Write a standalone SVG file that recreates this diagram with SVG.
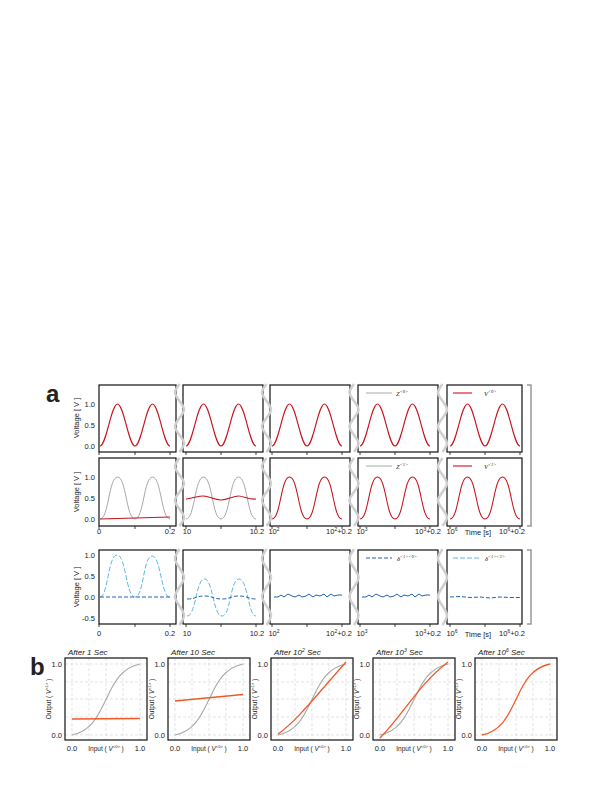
<svg xmlns="http://www.w3.org/2000/svg" width="612" height="792" viewBox="0 0 612 792">
<style>
text{font-family:"Liberation Sans",Arial,sans-serif;fill:#222}
.t{font-size:7.5px}
.tl{font-size:6.5px}
.frame{fill:none;stroke:#111;stroke-width:1.2}
.sq{fill:none;stroke:#cfcfcf;stroke-width:2.5}
.red{fill:none;stroke:#c8141e;stroke-width:1.1}
.gray{fill:none;stroke:#a8a8a8;stroke-width:1}
.lb{fill:none;stroke:#5ab8e8;stroke-width:1;stroke-dasharray:5 2}
.db{fill:none;stroke:#2060b0;stroke-width:1;stroke-dasharray:4 2}
.dbs{fill:none;stroke:#2060b0;stroke-width:1}
.or{fill:none;stroke:#f05a28;stroke-width:1.3}
.gs{fill:none;stroke:#a8a8a8;stroke-width:1.1}
.grid{stroke:#d8d8d8;stroke-width:0.7;stroke-dasharray:3 2}
.tick{stroke:#111;stroke-width:0.8}
.br{fill:none;stroke:#999;stroke-width:1.5}
.lab{font-size:8px;font-style:italic}
</style>
<defs>
<path id="wave" d="M0,0 C6.3,0 11.2,-42 17.5,-42 S28.7,0 35,0 S46.2,-42 52.5,-42 S63.7,0 70,0"/>
<path id="sqw" d="M0,0 C8.75,0 8.75,-42 17.5,-42 S26.25,0 35,0 S43.75,-42 52.5,-42 S61.25,0 70,0"/>
<path id="sq1" d="M0,0 c-6,8 -6,9 0,17 s6,9 0,17 s-6,9 0,17 s6,9 0,17"/>
<path id="sq3" d="M0,0 c-6,9 -6,10 0,19 s6,10 0,19 s-6,10 0,19 s6,10 0,19"/>
<path id="sig" d="M0,0 C20,-4 27,-21 34,-35.5 S48,-67 68,-71"/>
<path id="noise" d="M0,0 l4,0 3,-2 3,2 4,-3 4,2 3,1 4,-2 3,2 4,-1 3,-2 4,3 3,-2 4,1 4,-2 3,3 4,-3 3,2 4,-1 4,0"/>
</defs>
<text x="46" y="402" style="font-size:24px;font-weight:bold">a</text>
<text x="30" y="675" style="font-size:24px;font-weight:bold">b</text>

<g id="row1">
<rect class="frame" x="99" y="385" width="77" height="67"/>
<rect class="frame" x="183" y="385" width="80" height="67"/>
<rect class="frame" x="270" y="385" width="80" height="67"/>
<rect class="frame" x="358" y="385" width="80" height="67"/>
<rect class="frame" x="447" y="385" width="75" height="67"/>
<g class="t" text-anchor="end"><text x="95" y="407">1.0</text><text x="95" y="428">0.5</text><text x="95" y="449">0.0</text></g>
<text class="t" transform="translate(79,418) rotate(-90)" text-anchor="middle">Voltage [ V ]</text>
<use href="#wave" class="red" x="100" y="446"/>
<use href="#wave" class="red" x="186" y="446"/>
<use href="#wave" class="red" x="272" y="446"/>
<use href="#wave" class="red" x="360" y="446"/>
<use href="#wave" class="red" x="450" y="446"/>
<line x1="366" y1="393" x2="392" y2="393" class="gray"/><text class="tl" x="396" y="396" style="font-family:'Liberation Serif',serif;font-style:italic">Z<tspan font-size="4.5" dy="-3">&lt;0&gt;</tspan></text>
<line x1="453" y1="393" x2="472" y2="393" class="red"/><text class="tl" x="484" y="396" style="font-family:'Liberation Serif',serif;font-style:italic">V<tspan font-size="4.5" dy="-3">&lt;0&gt;</tspan></text>
</g>

<g id="row2">
<rect class="frame" x="99" y="458" width="77" height="68"/>
<rect class="frame" x="183" y="458" width="80" height="68"/>
<rect class="frame" x="270" y="458" width="80" height="68"/>
<rect class="frame" x="358" y="458" width="80" height="68"/>
<rect class="frame" x="447" y="458" width="75" height="68"/>
<g class="t" text-anchor="end"><text x="95" y="480">1.0</text><text x="95" y="501">0.5</text><text x="95" y="522">0.0</text></g>
<text class="t" transform="translate(79,492) rotate(-90)" text-anchor="middle">Voltage [ V ]</text>
<use href="#sqw" class="gray" x="100" y="519"/>
<path class="red" d="M100,519 L170,517"/>
<use href="#sqw" class="gray" x="186" y="519"/>
<path class="red" d="M186,499 C194,498 198,496 203.5,496 S214,500 221,500 S233,496 238.5,496 S249,500 256,499"/>
<use href="#sqw" class="red" x="272" y="519"/>
<use href="#sqw" class="red" x="360" y="519"/>
<use href="#sqw" class="red" x="450" y="519"/>
<line x1="366" y1="466" x2="392" y2="466" class="gray"/><text class="tl" x="396" y="469" style="font-family:'Liberation Serif',serif;font-style:italic">Z<tspan font-size="4.5" dy="-3">&lt;1&gt;</tspan></text>
<line x1="453" y1="466" x2="472" y2="466" class="red"/><text class="tl" x="484" y="469" style="font-family:'Liberation Serif',serif;font-style:italic">V<tspan font-size="4.5" dy="-3">&lt;1&gt;</tspan></text>
</g>

<g id="axis12" class="t" text-anchor="middle">
<text x="99" y="534">0</text><text x="170" y="534">0.2</text>
<text x="187" y="534">10</text><text x="257" y="534">10.2</text>
<text x="274" y="534">10<tspan font-size="5" dy="-3">2</tspan></text><text x="339" y="534">10<tspan font-size="5" dy="-3">2</tspan><tspan dy="3">+0.2</tspan></text>
<text x="362" y="534">10<tspan font-size="5" dy="-3">3</tspan></text><text x="428" y="534">10<tspan font-size="5" dy="-3">3</tspan><tspan dy="3">+0.2</tspan></text>
<text x="452" y="534">10<tspan font-size="5" dy="-3">6</tspan></text><text x="478" y="535">Time [s]</text><text x="512" y="534">10<tspan font-size="5" dy="-3">6</tspan><tspan dy="3">+0.2</tspan></text>
</g>

<g id="row3">
<rect class="frame" x="99" y="550" width="77" height="74"/>
<rect class="frame" x="183" y="550" width="80" height="74"/>
<rect class="frame" x="270" y="550" width="80" height="74"/>
<rect class="frame" x="358" y="550" width="80" height="74"/>
<rect class="frame" x="447" y="550" width="75" height="74"/>
<g class="t" text-anchor="end"><text x="95" y="558">1.0</text><text x="95" y="579">0.5</text><text x="95" y="600">0.0</text><text x="95" y="621">-0.5</text></g>
<text class="t" transform="translate(79,587) rotate(-90)" text-anchor="middle">Voltage [ V ]</text>
<path class="lb" d="M100,597 C108,597 108,555 117,555 S126,597 135,597 S143,556 152,556 S161,597 170,597"/>
<line class="db" x1="100" y1="597" x2="170" y2="597"/>
<path class="lb" d="M187,616 C196,616 196,579 204.5,579 S213,616 222,616 S230,579 239,579 S248,616 256,616"/>
<path class="db" d="M187,599 C196,599 196,596 204.5,596 S213,599 222,599 S230,596 239,596 S248,599 256,599"/>
<use href="#noise" class="dbs" x="274" y="597"/>
<use href="#noise" class="dbs" x="362" y="597"/>
<path class="db" d="M450,597 l10,-0.5 10,1 10,-0.5 10,1 10,-1 10,0.5 10,0"/>
<line x1="366" y1="558" x2="392" y2="558" class="db"/><text class="tl" x="397" y="561" style="font-family:'Liberation Serif',serif;font-style:italic">δ<tspan font-size="4.5" dy="-3">&lt;1&gt;&lt;0&gt;</tspan></text>
<line x1="453" y1="558" x2="480" y2="558" class="lb" stroke="#a8d8f5"/><text class="tl" x="485" y="561" style="font-family:'Liberation Serif',serif;font-style:italic">δ<tspan font-size="4.5" dy="-3">&lt;1&gt;&lt;3&gt;</tspan></text>
</g>

<g id="axis3" class="t" text-anchor="middle">
<text x="99" y="636">0</text><text x="170" y="636">0.2</text>
<text x="187" y="636">10</text><text x="257" y="636">10.2</text>
<text x="274" y="636">10<tspan font-size="5" dy="-3">2</tspan></text><text x="339" y="636">10<tspan font-size="5" dy="-3">2</tspan><tspan dy="3">+0.2</tspan></text>
<text x="362" y="636">10<tspan font-size="5" dy="-3">3</tspan></text><text x="428" y="636">10<tspan font-size="5" dy="-3">3</tspan><tspan dy="3">+0.2</tspan></text>
<text x="452" y="636">10<tspan font-size="5" dy="-3">6</tspan></text><text x="478" y="637">Time [s]</text><text x="512" y="636">10<tspan font-size="5" dy="-3">6</tspan><tspan dy="3">+0.2</tspan></text>
</g>

<g id="ticks" class="tick">
<path d="M99,452v3M135,452v3M170,452v3M186,452v3M221,452v3M256,452v3M272,452v3M307,452v3M342,452v3M360,452v3M395,452v3M430,452v3M450,452v3M485,452v3M520,452v3"/>
<path d="M99,526v3M135,526v3M170,526v3M186,526v3M221,526v3M256,526v3M272,526v3M307,526v3M342,526v3M360,526v3M395,526v3M430,526v3M450,526v3M485,526v3M520,526v3"/>
<path d="M99,624v3M135,624v3M170,624v3M186,624v3M221,624v3M256,624v3M272,624v3M307,624v3M342,624v3M360,624v3M395,624v3M430,624v3M450,624v3M485,624v3M520,624v3"/>
</g>

<g id="breaks" class="sq">
<use href="#sq1" x="179.5" y="384"/><use href="#sq1" x="266.5" y="384"/><use href="#sq1" x="354" y="384"/><use href="#sq1" x="442.5" y="384"/>
<use href="#sq1" x="179.5" y="458"/><use href="#sq1" x="266.5" y="458"/><use href="#sq1" x="354" y="458"/><use href="#sq1" x="442.5" y="458"/>
<use href="#sq3" x="179.5" y="549"/><use href="#sq3" x="266.5" y="549"/><use href="#sq3" x="354" y="549"/><use href="#sq3" x="442.5" y="549"/>
</g>

<g id="brackets" class="br">
<path d="M527,385h4v141h-4"/>
<path d="M527,550h4v74h-4"/>
</g>

<g id="partb">
<g id="b1" transform="translate(65,0)">
<path class="grid" d="M7,658v82M24,658v82M41,658v82M58,658v82M75,658v82M0,664h82M0,682h82M0,699h82M0,717h82M0,735h82"/>
<use href="#sig" class="gs" x="7" y="735"/>
<path class="or" d="M7,719 L75,718.5"/>
<rect class="frame" x="0" y="658" width="82" height="82"/>
<text class="lab" x="3" y="655">After 1 Sec</text>
</g>
<g id="b2" transform="translate(168,0)">
<path class="grid" d="M7,658v82M24,658v82M41,658v82M58,658v82M75,658v82M0,664h82M0,682h82M0,699h82M0,717h82M0,735h82"/>
<use href="#sig" class="gs" x="7" y="735"/>
<path class="or" d="M7,701 L75,694.5"/>
<rect class="frame" x="0" y="658" width="82" height="82"/>
<text class="lab" x="3" y="655">After 10 Sec</text>
</g>
<g id="b3" transform="translate(271,0)">
<path class="grid" d="M7,658v82M24,658v82M41,658v82M58,658v82M75,658v82M0,664h82M0,682h82M0,699h82M0,717h82M0,735h82"/>
<use href="#sig" class="gs" x="7" y="735"/>
<path class="or" d="M7,734 C25,722 50,690 75,662"/>
<rect class="frame" x="0" y="658" width="82" height="82"/>
<text class="lab" x="3" y="655">After 10<tspan font-size="5" dy="-3">2</tspan><tspan dy="3"> Sec</tspan></text>
</g>
<g id="b4" transform="translate(373,0)">
<path class="grid" d="M7,658v82M24,658v82M41,658v82M58,658v82M75,658v82M0,664h82M0,682h82M0,699h82M0,717h82M0,735h82"/>
<use href="#sig" class="gs" x="7" y="735"/>
<path class="or" d="M7,738 C30,715 45,685 75,662"/>
<rect class="frame" x="0" y="658" width="82" height="82"/>
<text class="lab" x="3" y="655">After 10<tspan font-size="5" dy="-3">3</tspan><tspan dy="3"> Sec</tspan></text>
</g>
<g id="b5" transform="translate(475,0)">
<path class="grid" d="M7,658v82M24,658v82M41,658v82M58,658v82M75,658v82M0,664h82M0,682h82M0,699h82M0,717h82M0,735h82"/>
<use href="#sig" class="or" x="7" y="735"/>
<rect class="frame" x="0" y="658" width="82" height="82"/>
<text class="lab" x="3" y="655">After 10<tspan font-size="5" dy="-3">6</tspan><tspan dy="3"> Sec</tspan></text>
</g>
<g class="t">
<g text-anchor="end">
<text x="62" y="667">1.0</text><text x="62" y="738">0.0</text>
<text x="165" y="667">1.0</text><text x="165" y="738">0.0</text>
<text x="268" y="667">1.0</text><text x="268" y="738">0.0</text>
<text x="370" y="667">1.0</text><text x="370" y="738">0.0</text>
<text x="472" y="667">1.0</text><text x="472" y="738">0.0</text>
</g>
<g text-anchor="middle">
<text x="72" y="751">0.0</text><text x="140" y="751">1.0</text><text x="106" y="751" font-size="6.5">Input ( <tspan font-style="italic">V</tspan><tspan font-size="4" dy="-3">&lt;0&gt;</tspan><tspan dy="3"> )</tspan></text>
<text x="175" y="751">0.0</text><text x="243" y="751">1.0</text><text x="209" y="751" font-size="6.5">Input ( <tspan font-style="italic">V</tspan><tspan font-size="4" dy="-3">&lt;0&gt;</tspan><tspan dy="3"> )</tspan></text>
<text x="278" y="751">0.0</text><text x="346" y="751">1.0</text><text x="312" y="751" font-size="6.5">Input ( <tspan font-style="italic">V</tspan><tspan font-size="4" dy="-3">&lt;0&gt;</tspan><tspan dy="3"> )</tspan></text>
<text x="380" y="751">0.0</text><text x="448" y="751">1.0</text><text x="414" y="751" font-size="6.5">Input ( <tspan font-style="italic">V</tspan><tspan font-size="4" dy="-3">&lt;0&gt;</tspan><tspan dy="3"> )</tspan></text>
<text x="482" y="751">0.0</text><text x="550" y="751">1.0</text><text x="516" y="751" font-size="6.5">Input ( <tspan font-style="italic">V</tspan><tspan font-size="4" dy="-3">&lt;0&gt;</tspan><tspan dy="3"> )</tspan></text>
</g>
<g text-anchor="middle" font-size="6.5">
<text transform="translate(51,699) rotate(-90)">Output ( <tspan font-style="italic">V</tspan><tspan font-size="4" dy="-3">&lt;1&gt;</tspan><tspan dy="3"> )</tspan></text>
<text transform="translate(154,699) rotate(-90)">Output ( <tspan font-style="italic">V</tspan><tspan font-size="4" dy="-3">&lt;1&gt;</tspan><tspan dy="3"> )</tspan></text>
<text transform="translate(257,699) rotate(-90)">Output ( <tspan font-style="italic">V</tspan><tspan font-size="4" dy="-3">&lt;1&gt;</tspan><tspan dy="3"> )</tspan></text>
<text transform="translate(359,699) rotate(-90)">Output ( <tspan font-style="italic">V</tspan><tspan font-size="4" dy="-3">&lt;1&gt;</tspan><tspan dy="3"> )</tspan></text>
<text transform="translate(461,699) rotate(-90)">Output ( <tspan font-style="italic">V</tspan><tspan font-size="4" dy="-3">&lt;1&gt;</tspan><tspan dy="3"> )</tspan></text>
</g>
</g>
</g>
</svg>
